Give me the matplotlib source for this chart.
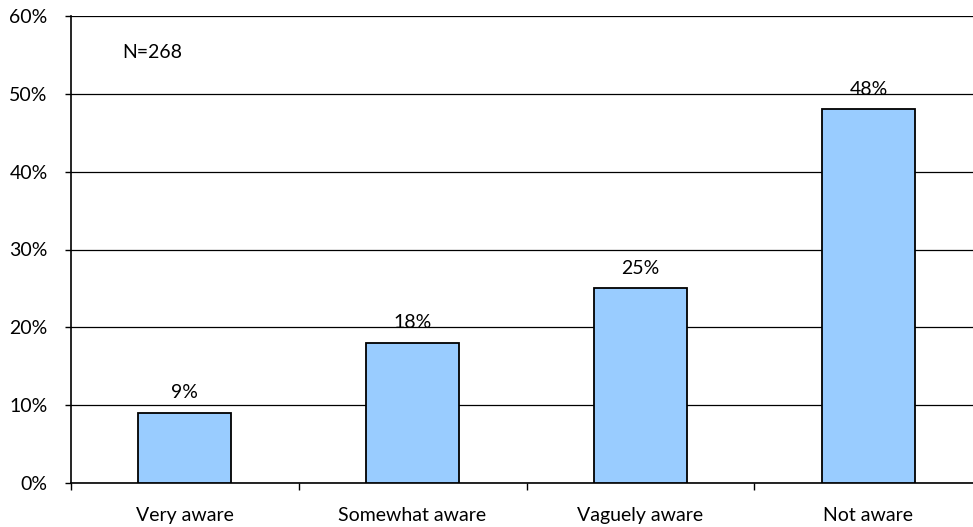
import matplotlib
matplotlib.use("Agg")
import matplotlib.pyplot as plt
from matplotlib.ticker import FuncFormatter

categories = ["Very aware", "Somewhat aware", "Vaguely aware", "Not aware"]
values = [9, 18, 25, 48]
yticks = [0, 10, 20, 30, 40, 50, 60]
note = "N=268"

plt.rcParams['font.family'] = ['Lato', 'DejaVu Sans']
FS = 14

fig = plt.figure(figsize=(9.73, 5.27), dpi=100)
# plot area runs a little past the right edge of the canvas
ax = fig.add_axes([70.5 / 973, 44 / 527, 912 / 973, 467 / 527])

x = list(range(len(categories)))
bars = ax.bar(x, values, width=0.41, color="#99CCFF", edgecolor="black",
              linewidth=1.3, zorder=3)

ax.set_xlim(-0.5, len(categories) - 0.5)
ax.set_ylim(0, 60)
ax.set_yticks(yticks)
ax.yaxis.set_major_formatter(FuncFormatter(lambda v, p: f"{int(v)}%"))
ax.grid(axis="y", color="black", linewidth=0.9, zorder=0)

ax.set_xticks(x)
ax.set_xticklabels(categories)
ax.set_xticks([i + 0.5 for i in range(-1, len(categories))], minor=True)
ax.tick_params(axis="x", which="major", length=0, pad=17, labelsize=FS)
ax.tick_params(axis="x", which="minor", length=5, width=1, direction="out")
ax.tick_params(axis="y", length=4.5, width=1, direction="out", pad=12, labelsize=FS)

for s in ("top", "right"):
    ax.spines[s].set_visible(False)
for s in ("left", "bottom"):
    ax.spines[s].set_color("black")
    ax.spines[s].set_linewidth(1.2)

for b, v in zip(bars, values):
    ax.annotate(f"{v}%", (b.get_x() + b.get_width() / 2, v),
                xytext=(0, 8.5), textcoords="offset points",
                ha="center", va="bottom", fontsize=FS)

ax.text(0.057, 0.921, note, transform=ax.transAxes, fontsize=FS,
        ha="left", va="center")

fig.savefig("out.png", dpi=100, facecolor="white")
